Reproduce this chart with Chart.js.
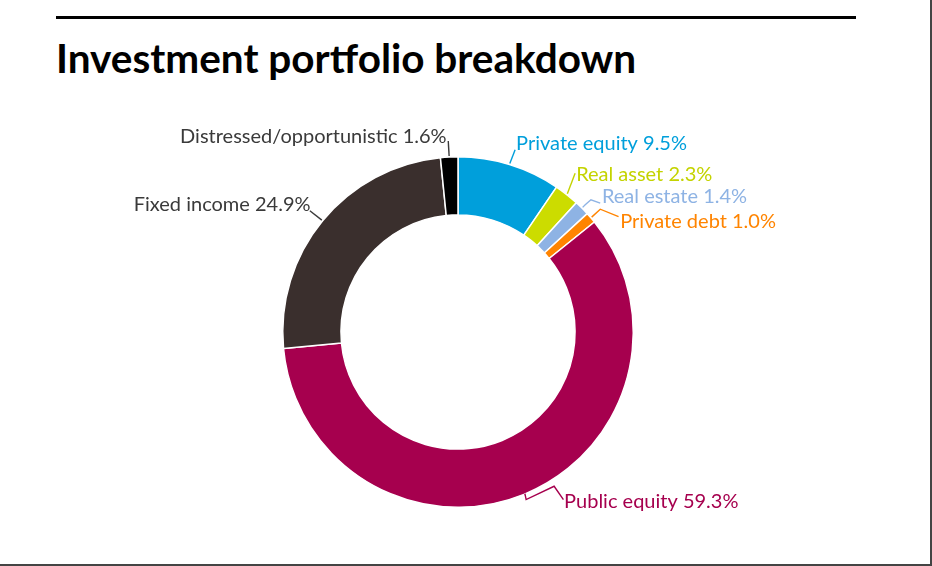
<!DOCTYPE html>
<html><head><meta charset="utf-8">
<script src="https://cdn.jsdelivr.net/npm/chart.js@4.4.1/dist/chart.umd.min.js"></script>
<style>
  html,body{margin:0;padding:0;background:#fff;}
  #wrap{position:relative;width:932px;height:566px;overflow:hidden;}
  #rule{position:absolute;left:56px;top:16px;width:800px;height:3px;background:#000;}
  #title{position:absolute;left:56px;top:38px;font-family:Lato,sans-serif;font-weight:700;font-size:40.5px;line-height:40px;color:#000;white-space:nowrap;}
  #frameR{position:absolute;left:930px;top:0;width:2px;height:566px;background:#444;}
  #frameB{position:absolute;left:0;top:564px;width:932px;height:2px;background:#444;}
  canvas{position:absolute;left:0;top:0;}
</style>
</head>
<body>
<div id="wrap">
  <div id="rule"></div>
  <div id="title">Investment portfolio breakdown</div>
  <canvas id="c" width="932" height="566"></canvas>
  <div id="frameR"></div>
  <div id="frameB"></div>
</div>
<script>
// ---- data ----
const categories = ['Private equity','Real asset','Real estate','Private debt','Public equity','Fixed income','Distressed/opportunistic'];
const shares = [9.5, 2.3, 1.4, 1.0, 59.3, 24.9, 1.6];

// ---- styles ----
const segmentColors = ['#009FDB','#CCDC00','#8EB3E4','#FF8400','#A6004E','#3A2F2D','#000000'];
const labelColors   = ['#009FDB','#C4D300','#8EB3E4','#FF8400','#A6004E','#3A3A3A','#3A3A3A'];
// leader layout: vertices relative to the arc's outer mid point, text offset from the last vertex
const leaderLayout = [
  {pts:[[5.3,-13.8]], text:[1,0.5], align:'left'},
  {pts:[[7.8,-20.6]], text:[1,7.7], align:'left'},
  {pts:[[2.6,-2.6],[8.3,-7.6],[17.6,-4.3]], text:[1.7,0], align:'left'},
  {pts:[[8.6,-7.9],[26.9,-0.5]], text:[1.7,11.3], align:'left'},
  {pts:[[0.7,-0.7],[1.7,4.3],[29.7,-9],[39,4.3]], text:[0.7,8.7], align:'left'},
  {pts:[[-12,-9.3]], text:[0.7,0.5], align:'right'},
  {pts:[[-0.9,-15]], text:[-1.6,2], align:'right'}
];

const leaderLabels = {
  id:'leaderLabels',
  afterDatasetsDraw(chart){
    const ctx = chart.ctx;
    const meta = chart.getDatasetMeta(0);
    ctx.save();
    ctx.font = '20px Lato';
    ctx.textBaseline = 'alphabetic';
    meta.data.forEach((arc, i) => {
      const p = arc.getProps(['x','y','startAngle','endAngle','outerRadius'], true);
      const mid = (p.startAngle + p.endAngle) / 2;
      const r = p.outerRadius + 1;
      const sx = p.x + Math.cos(mid) * r;
      const sy = p.y + Math.sin(mid) * r;
      const lay = leaderLayout[i];
      ctx.strokeStyle = labelColors[i];
      ctx.lineWidth = 1.4;
      ctx.beginPath();
      ctx.moveTo(sx, sy);
      lay.pts.forEach(v => ctx.lineTo(sx + v[0], sy + v[1]));
      ctx.stroke();
      const last = lay.pts[lay.pts.length - 1];
      ctx.fillStyle = labelColors[i];
      ctx.textAlign = lay.align;
      const txt = categories[i] + ' ' + shares[i].toFixed(1) + '%';
      ctx.fillText(txt, sx + last[0] + lay.text[0], sy + last[1] + lay.text[1]);
    });
    ctx.restore();
  }
};

function build(){
  new Chart(document.getElementById('c'), {
    type:'doughnut',
    data:{
      labels: categories,
      datasets:[{
        data: shares,
        backgroundColor: segmentColors,
        borderColor:'#ffffff',
        borderWidth:1.5,
        hoverOffset:0,
        offset:0
      }]
    },
    options:{
      responsive:false,
      animation:false,
      events:[],
      cutout:'66.8%',
      rotation:0,
      layout:{padding:{top:156,bottom:58,left:282,right:298}},
      plugins:{legend:{display:false},tooltip:{enabled:false},title:{display:false}}
    },
    plugins:[leaderLabels]
  });
}
if (document.fonts && document.fonts.load) {
  Promise.all([document.fonts.load('20px Lato'), document.fonts.load('700 40.5px Lato')]).then(build, build);
} else { build(); }
</script>
</body></html>
